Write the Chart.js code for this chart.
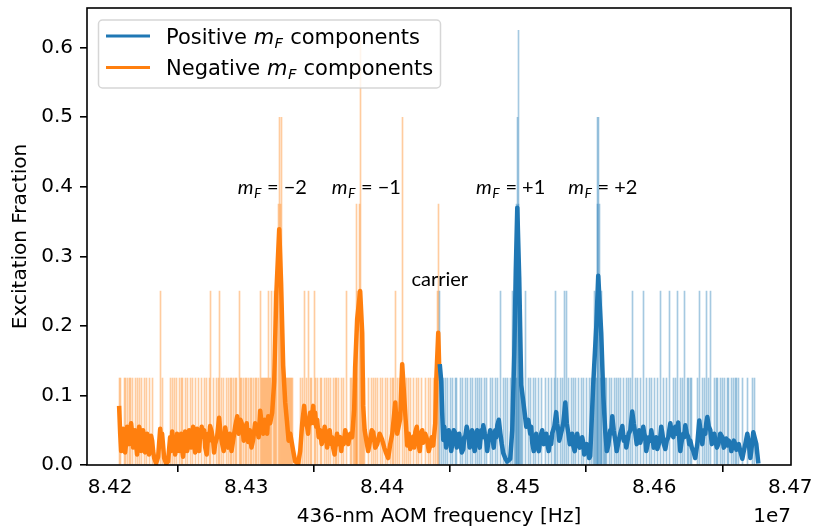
<!DOCTYPE html>
<html><head><meta charset="utf-8">
<script src="https://cdn.jsdelivr.net/npm/chart.js@4.4.0/dist/chart.umd.min.js"></script>
<style>html,body{margin:0;padding:0;background:#fff}#wrap{width:814px;height:530px}</style>
</head><body><div id="wrap"><canvas id="c" width="814" height="530"></canvas></div>
<script>
// Frequencies in kHz (436-nm AOM), values = excitation fraction
const negSmoothFreq = [84206.6,84207.4,84208.1,84208.8,84209.5,84210.3,84211.0,84211.8,84212.5,84213.2,84214.0,84214.7,84215.4,84216.2,84216.9,84217.6,84218.3,84219.1,84219.8,84220.6,84221.3,84222.1,84222.8,84223.5,84224.2,84225.0,84225.7,84226.5,84227.2,84227.9,84228.6,84229.4,84230.1,84230.9,84231.6,84232.4,
 84233.8,84235.3,84236.8,84237.5,84238.2,84239.7,84241.2,84242.6,
 84244.1,84244.8,84245.6,84246.3,84247.1,84247.8,84248.5,84249.2,84250.0,84250.7,84251.5,84252.2,84252.9,84253.6,84254.4,84255.1,84255.9,84256.6,84257.4,84258.1,84258.8,84259.5,84260.3,84261.0,84261.8,84262.5,84263.2,84263.9,84264.7,84265.4,84266.2,84267.3,84268.4,84269.1,84269.9,84271.0,84272.1,84272.8,84273.5,84274.6,84275.7,84276.4,84277.2,84278.6,84280.1,84281.2,84282.4,84283.5,84284.6,84285.7,84286.8,84288.0,84289.2,84290.4,84291.9,84293.4,84294.5,84295.8,84297.1,84298.2,84299.3,84300.4,84301.5,84302.7,84303.9,84305.1,84306.6,84308.1,84309.2,84310.3,84311.4,84312.5,84313.6,84314.7,84315.4,84316.2,84317.6,84319.1,
 84320.6,84322.1,84324.3,84325.7,84327.2,84328.7,84330.1,84331.2,84332.4,84334.6,84336.0,84338.2,84339.7,84341.2,84342.6,
 84343.7,84344.8,84345.5,84346.3,84347.0,84347.8,84348.5,84349.3,84350.0,84350.7,84351.5,84352.2,84353.3,84354.4,84355.5,84356.6,84357.7,84358.8,84359.5,84360.3,84361.4,84362.5,84363.2,84363.9,84365.0,84366.1,84366.8,84367.6,84369.1,84369.9,84370.6,84371.7,84372.8,84373.9,84375.0,84376.5,84377.9,
 84379.4,84380.1,84381.6,84383.8,84385.3,84386.0,84387.1,84388.2,84389.7,84391.2,84392.3,84393.4,84394.9,84396.3,84398.1,84400.0,84401.5,84402.9,84404.4,84405.9,84407.4,84409.6,84411.0,84413.2,84414.7,84416.9,84418.4,
 84419.5,84420.6,84421.7,84422.8,84423.5,84424.3,84425.4,84426.5,84427.6,84428.7,84429.4,84430.1,84431.6,84433.1,84434.2,84435.3,84436.4,84437.5,84439.0,84439.7,84441.2,84441.9];
const negSmoothVal = [0.085,0.045,0.020,0.030,0.052,0.040,0.018,0.032,0.055,0.048,0.030,0.050,0.060,0.046,0.025,0.040,0.050,0.030,0.015,0.042,0.055,0.048,0.020,0.032,0.050,0.040,0.018,0.028,0.045,0.038,0.015,0.030,0.042,0.035,0.020,0.010,
 0.002,0.012,0.052,0.030,0.045,0.010,0.002,0.005,
 0.040,0.020,0.048,0.030,0.035,0.015,0.025,0.045,0.040,0.020,0.035,0.045,0.022,0.012,0.030,0.048,0.038,0.020,0.028,0.050,0.040,0.025,0.045,0.055,0.030,0.018,0.040,0.052,0.032,0.020,0.042,0.055,0.040,0.050,0.025,0.015,0.045,0.035,0.056,0.048,0.035,0.018,0.030,0.040,0.068,0.045,0.030,0.020,0.054,0.040,0.025,0.045,0.020,0.035,0.055,0.070,0.045,0.065,0.058,0.035,0.040,0.060,0.033,0.050,0.025,0.036,0.060,0.050,0.040,0.078,0.060,0.045,0.065,0.055,0.045,0.070,0.060,0.075,
 0.120,0.243,0.339,0.260,0.143,0.090,0.060,0.035,0.045,0.020,0.005,0.002,0.020,0.060,0.085,
 0.060,0.055,0.045,0.065,0.075,0.060,0.070,0.085,0.060,0.075,0.055,0.065,0.040,0.050,0.030,0.037,0.055,0.045,0.025,0.040,0.050,0.030,0.040,0.025,0.015,0.035,0.045,0.030,0.040,0.020,0.036,0.030,0.050,0.040,0.030,0.045,0.040,
 0.080,0.140,0.210,0.250,0.190,0.085,0.050,0.037,0.020,0.036,0.050,0.047,0.025,0.030,0.045,0.036,0.025,0.017,0.010,0.030,0.045,0.090,0.045,0.066,0.145,0.075,0.028,
 0.045,0.023,0.035,0.041,0.025,0.047,0.055,0.033,0.020,0.046,0.050,0.032,0.045,0.036,0.020,0.028,0.040,0.028,0.060,0.120,0.190,0.140];
const posSmoothFreq = [84442.3,84443.4,84444.1,84444.9,84445.6,84446.3,84447.0,84447.8,84448.9,84450.0,84450.7,84451.5,84452.6,84453.7,84454.8,84455.9,84456.6,84457.4,84458.5,84459.6,84460.3,84461.0,84462.1,84463.2,84464.3,84465.4,84466.1,84466.9,84468.0,84469.1,84469.8,84470.6,84471.7,84472.8,84473.5,84474.3,84475.4,84476.5,84477.2,84477.9,84479.4,84480.9,84482.0,84483.1,84483.8,84484.6,84485.7,84486.8,84487.9,84489.0,
 84490.4,84491.9,84494.1,84495.6,84497.1,84498.2,84499.3,84500.7,84502.2,84504.4,84505.9,84507.4,84508.8,84509.5,84510.3,84511.4,84512.5,84513.2,84514.0,84515.1,84516.2,84516.9,84517.6,84518.8,84519.9,84520.6,84521.3,84522.4,84523.5,84524.2,84525.0,84526.5,84527.9,84528.6,84529.4,84530.1,84530.9,84532.0,84533.1,84534.6,
 84535.7,84536.8,84537.9,84539.0,84539.7,84540.4,84541.5,84542.6,84543.3,84544.1,84545.2,84546.3,84547.0,84547.8,84548.5,84549.3,84550.4,84551.5,84552.2,84552.9,84555.1,84557.4,84558.8,84561.0,84562.5,84564.0,84565.1,84566.2,84566.9,84567.6,
 84568.3,84569.1,84570.2,84571.3,84572.4,84573.5,84575.0,84576.5,84577.6,84578.7,84579.4,84580.1,84581.2,84582.4,84583.8,84584.9,84586.0,84587.1,84588.2,84588.9,84589.7,84590.8,84591.9,84592.6,84593.4,84594.1,84594.9,84596.0,84597.1,84597.8,
 84598.5,84599.6,84600.7,84601.4,84602.2,84603.3,84604.4,84605.1,84605.9,84607.0,84608.1,84609.2,84610.3,84611.0,84611.8,84612.9,84614.0,84614.7,84615.4,84616.5,84617.6,84618.3,84619.1,84620.2,84621.3,84622.0,84622.8,84623.9,84625.0,84625.7,
 84626.5,84627.6,84628.7,84630.1,84631.6,84633.1,84634.2,84635.3,84636.4,84637.5,84638.2,84639.0,84640.1,84641.2,84642.3,84643.4,84644.1,84644.9,84646.0,84647.1,84648.5,84650.0,84651.1,84652.2,84652.9,84653.7,84654.8,84655.9,84656.6,84657.4,
 84658.5,84659.6,84660.3,84661.0,84662.1,84663.2,84664.7,84665.8,84666.9,84668.4,84669.5,84670.6,84671.3,84672.1,84672.8,84675.0,84676.5];
const posSmoothVal = [0.145,0.120,0.075,0.036,0.055,0.045,0.025,0.040,0.050,0.041,0.020,0.030,0.050,0.046,0.025,0.035,0.045,0.032,0.018,0.023,0.040,0.040,0.055,0.045,0.025,0.040,0.050,0.032,0.020,0.045,0.050,0.036,0.025,0.050,0.040,0.057,0.045,0.035,0.020,0.032,0.050,0.041,0.025,0.050,0.040,0.057,0.065,0.046,0.030,0.017,
 0.010,0.005,0.009,0.050,0.160,0.280,0.370,0.270,0.115,0.080,0.055,0.065,0.045,0.055,0.032,0.020,0.035,0.045,0.028,0.020,0.036,0.045,0.050,0.030,0.035,0.045,0.032,0.020,0.040,0.030,0.046,0.055,0.076,0.060,0.050,0.035,0.041,0.050,0.060,0.090,
 0.060,0.046,0.030,0.035,0.045,0.028,0.020,0.035,0.045,0.036,0.025,0.030,0.040,0.032,0.015,0.023,0.030,0.018,0.010,0.013,0.115,0.200,0.272,0.190,0.100,0.047,0.020,0.028,0.040,0.050,
 0.045,0.070,0.050,0.036,0.020,0.032,0.045,0.056,0.035,0.040,0.025,0.032,0.045,0.050,0.077,0.060,0.046,0.030,0.040,0.050,0.032,0.040,0.055,0.045,0.040,0.020,0.028,0.040,0.035,0.050,
 0.041,0.025,0.030,0.040,0.023,0.030,0.040,0.055,0.046,0.030,0.023,0.035,0.040,0.050,0.060,0.045,0.040,0.050,0.055,0.045,0.061,0.040,0.020,0.035,0.045,0.040,0.057,0.045,0.040,0.030,
 0.035,0.025,0.020,0.010,0.030,0.064,0.045,0.030,0.050,0.045,0.060,0.069,0.055,0.050,0.030,0.040,0.045,0.035,0.025,0.030,0.045,0.040,0.025,0.032,0.038,0.028,0.035,0.030,0.020,0.026,
 0.035,0.030,0.022,0.028,0.030,0.020,0.009,0.020,0.030,0.045,0.030,0.010,0.020,0.035,0.047,0.030,0.002];
// Raw (unsmoothed) non-zero readings; all other readings are 0
const negRawFreq = [84206.6,84207.9,84210.3,84211.5,84213.0,84214.0,84215.2,84216.4,84218.4,84220.1,84221.5,84223.3,84225.2,84227.0,84228.9,84231.1,84236.8,84238.5,84244.6,84245.8,84247.1,84249.0,84250.7,84252.2,84253.5,84255.1,84257.1,84258.8,84260.5,84262.5,84264.9,84267.4,84269.3,84271.1,84273.0,84274.0,84276.0,84277.9,84279.6,84280.1,84281.6,84283.3,84285.3,84287.0,84288.2,84289.5,84290.7,84291.9,84293.2,84294.9,84295.6,84296.8,84298.0,84299.3,84300.5,84301.7,84302.9,84304.2,84305.4,84306.6,84307.9,84309.0,84310.3,84311.0,84311.8,84312.5,84313.2,84314.0,84314.7,84315.4,84316.2,84316.9,84317.6,84318.9,84319.9,84320.8,84321.3,84322.6,84323.5,84324.3,84325.0,84325.7,84326.5,84327.2,84327.9,84328.7,84329.4,84330.1,84330.9,84331.6,84332.4,84333.1,84333.8,84339.7,84341.4,84342.6,84344.6,84345.6,84347.1,84348.3,84350.0,84351.3,84352.7,84354.4,84355.7,84357.6,84359.3,84360.5,84361.8,84364.2,84365.4,84366.7,84367.9,84370.4,84371.5,84373.5,84376.5,84377.7,84378.7,84379.4,84380.1,84380.9,84381.4,84382.0,84383.1,84384.2,84384.9,84385.7,84386.4,84387.1,84389.9,84391.9,84393.6,84394.9,84396.8,84398.5,84400.2,84402.2,84404.2,84405.9,84407.6,84408.5,84409.6,84411.3,84412.7,84415.2,84416.2,84417.6,84419.3,84421.1,84423.0,84425.0,84426.7,84429.2,84431.6,84434.0,84435.8,84437.7,84439.5,84440.4,84441.2];
const negRawVal = [0.125,0.125,0.125,0.125,0.125,0.125,0.125,0.125,0.125,0.125,0.125,0.125,0.125,0.125,0.125,0.125,0.25,0.125,0.125,0.125,0.125,0.125,0.125,0.125,0.125,0.125,0.125,0.125,0.125,0.125,0.125,0.125,0.125,0.125,0.125,0.25,0.125,0.125,0.125,0.25,0.125,0.125,0.125,0.125,0.125,0.125,0.125,0.125,0.125,0.25,0.125,0.125,0.125,0.125,0.125,0.125,0.125,0.125,0.125,0.125,0.125,0.125,0.25,0.125,0.125,0.125,0.125,0.125,0.125,0.125,0.25,0.125,0.125,0.25,0.125,0.25,0.125,0.25,0.375,0.5,0.375,0.5,0.125,0.125,0.125,0.125,0.125,0.125,0.125,0.125,0.125,0.125,0.125,0.125,0.125,0.25,0.125,0.25,0.125,0.125,0.25,0.125,0.125,0.125,0.125,0.125,0.125,0.125,0.125,0.125,0.125,0.125,0.125,0.125,0.125,0.25,0.125,0.125,0.125,0.125,0.125,0.125,0.375,0.25,0.375,0.61,0.125,0.125,0.125,0.125,0.125,0.125,0.125,0.125,0.125,0.125,0.125,0.125,0.125,0.125,0.125,0.125,0.25,0.125,0.125,0.5,0.125,0.125,0.125,0.125,0.125,0.125,0.125,0.125,0.125,0.125,0.125,0.125,0.125,0.25,0.375];
const posRawFreq = [84442.1,84443.9,84445.1,84446.8,84448.0,84450.0,84451.7,84453.7,84454.9,84457.4,84459.0,84461.0,84462.7,84464.7,84466.4,84468.4,84470.1,84471.5,84473.3,84475.0,84477.0,84479.4,84481.1,84483.1,84484.8,84487.1,84489.2,84490.4,84492.4,84494.1,84495.8,84497.1,84497.8,84498.5,84498.9,84499.5,84500.0,84500.5,84501.1,84501.8,84502.6,84503.3,84505.5,84507.6,84509.3,84511.3,84512.5,84514.9,84517.4,84519.9,84522.3,84524.8,84526.5,84527.6,84529.2,84530.9,84532.6,84533.8,84535.3,84537.0,84539.0,84540.7,84542.4,84544.3,84546.3,84548.0,84550.5,84552.4,84554.2,84555.1,84555.9,84556.6,84557.4,84558.1,84558.5,84559.2,84559.6,84560.3,84561.0,84561.5,84562.5,84563.2,84564.0,84564.7,84567.1,84568.9,84570.6,84572.1,84573.8,84575.5,84577.4,84579.4,84581.1,84582.4,84583.8,84586.0,84587.7,84589.7,84591.9,84594.6,84596.5,84598.3,84600.0,84602.0,84604.9,84606.8,84608.8,84611.4,84614.2,84615.4,84616.9,84619.1,84620.4,84622.1,84624.1,84625.2,84626.5,84627.7,84632.1,84633.5,84635.1,84637.0,84638.2,84639.9,84641.5,84644.3,84645.4,84646.8,84648.5,84650.2,84651.7,84653.5,84654.6,84656.6,84658.3,84659.6,84660.8,84662.0,84664.9,84668.2,84672.3,84673.5];
const posRawVal = [0.25,0.125,0.125,0.125,0.125,0.125,0.125,0.125,0.125,0.125,0.125,0.125,0.125,0.125,0.125,0.125,0.125,0.125,0.125,0.125,0.125,0.125,0.125,0.125,0.125,0.25,0.125,0.125,0.125,0.125,0.25,0.125,0.125,0.125,0.375,0.5,0.375,0.625,0.125,0.125,0.125,0.125,0.25,0.125,0.125,0.125,0.125,0.125,0.125,0.125,0.125,0.125,0.125,0.25,0.125,0.125,0.125,0.25,0.25,0.125,0.125,0.125,0.125,0.125,0.125,0.125,0.125,0.125,0.125,0.125,0.25,0.125,0.125,0.375,0.5,0.5,0.375,0.125,0.125,0.25,0.125,0.125,0.125,0.125,0.125,0.125,0.125,0.125,0.125,0.125,0.125,0.125,0.125,0.125,0.25,0.125,0.125,0.125,0.25,0.125,0.125,0.125,0.125,0.125,0.25,0.125,0.125,0.25,0.125,0.125,0.25,0.125,0.125,0.25,0.125,0.125,0.125,0.125,0.125,0.25,0.125,0.125,0.25,0.125,0.25,0.125,0.125,0.125,0.125,0.125,0.125,0.125,0.125,0.125,0.125,0.125,0.125,0.125,0.125,0.125,0.125,0.125];
const xTicks = [84200,84300,84400,84500,84600,84700];
const yTicks = [0,0.1,0.2,0.3,0.4,0.5,0.6];
const peakLabels = ['\u22122','\u22121','+1','+2'];
const peakLabelFreq = [84318.8,84387.9,84494.1,84561.8];
const peakLabelVal = [0.39,0.39,0.39,0.39];
const carrierFreq = 84442.3, carrierVal = 0.257;

const BLUE='#1f77b4', ORANGE='#ff7f0e';
const BLUE_L='rgba(31,119,180,0.4)', ORANGE_L='rgba(255,127,14,0.4)';
const F='DejaVu Sans';
const pts=(fx,vy)=>fx.map((f,i)=>({x:f,y:vy[i]}));

function drawMF(ctx, x, y, family, size, rest, align){
  const reg = size+'px "'+family+'"', ita = 'italic '+size+'px "'+family+'"', sub='italic '+(size*0.7)+'px "'+family+'"';
  ctx.font=ita; const wm=ctx.measureText('m').width;
  ctx.font=sub; const wf=ctx.measureText('F').width;
  ctx.font=reg; const wr=ctx.measureText(rest).width;
  const tot=wm+wf+wr;
  let x0 = align==='center' ? x-tot/2 : x;
  ctx.textAlign='left';
  ctx.font=ita; ctx.fillText('m',x0,y);
  ctx.font=sub; ctx.fillText('F',x0+wm+0.5,y+size*0.2);
  ctx.font=reg; ctx.fillText(rest,x0+wm+wf+1,y);
}

// snap the 1-px raw bars onto whole device pixels so they stay crisp
const snap={id:'snap',beforeDatasetsDraw(chart){
  chart.data.datasets.forEach((ds,i)=>{
    if(ds.type!=='bar') return;
    chart.getDatasetMeta(i).data.forEach(el=>{ el.x=Math.floor(el.x)+0.5; });
  });
}};

const deco={id:'deco',afterDraw(chart){
  const {ctx,chartArea:a,scales:{x,y}}=chart;
  ctx.save();
  ctx.fillStyle='#000'; ctx.textBaseline='alphabetic';
  for(let i=0;i<peakLabels.length;i++){
    drawMF(ctx,x.getPixelForValue(peakLabelFreq[i]),y.getPixelForValue(peakLabelVal[i]),'Lato',20,' = '+peakLabels[i],'center');
  }
  ctx.font='20px Lato'; ctx.textAlign='center';
  ctx.fillText('carrier',x.getPixelForValue(carrierFreq),y.getPixelForValue(carrierVal));
  ctx.strokeStyle='#000'; ctx.lineWidth=1.6;
  ctx.strokeRect(a.left,a.top,a.right-a.left,a.bottom-a.top);
  ctx.font='20px "'+F+'"'; ctx.textBaseline='middle'; ctx.textAlign='center';
  ctx.fillText('436-nm AOM frequency [Hz]',(a.left+a.right)/2,517);
  ctx.textAlign='right'; ctx.fillText('1e7',a.right,517);
  ctx.save(); ctx.translate(21,(a.top+a.bottom)/2); ctx.rotate(-Math.PI/2);
  ctx.textAlign='center'; ctx.fillText('Excitation Fraction',0,0); ctx.restore();
  // legend
  const lx=98.5,ly=20,lw=342,lh=68,r=4;
  ctx.beginPath(); ctx.roundRect(lx,ly,lw,lh,r);
  ctx.fillStyle='rgba(255,255,255,0.8)'; ctx.fill();
  ctx.strokeStyle='rgba(204,204,204,0.8)'; ctx.lineWidth=1.5; ctx.stroke();
  const rows=[[BLUE,'Positive ',36],[ORANGE,'Negative ',67.5]];
  for(const [c,t,yy] of rows){
    ctx.strokeStyle=c; ctx.lineWidth=3; ctx.lineCap='butt';
    ctx.beginPath(); ctx.moveTo(106,yy); ctx.lineTo(150,yy); ctx.stroke();
    ctx.fillStyle='#000'; ctx.textBaseline='alphabetic'; ctx.textAlign='left';
    ctx.font='21px "'+F+'"'; ctx.fillText(t,166,yy+7.5);
    const w=ctx.measureText(t).width;
    drawMF(ctx,166+w,yy+7.5,F,21,' components','left');
  }
  ctx.restore();
}};

new Chart(document.getElementById('c'),{
  type:'line',
  data:{datasets:[
    {type:'line',label:'Positive smoothed',data:pts(posSmoothFreq,posSmoothVal),borderColor:BLUE,borderWidth:4.5,pointRadius:0,borderJoinStyle:'round',tension:0},
    {type:'line',label:'Negative smoothed',data:pts(negSmoothFreq,negSmoothVal),borderColor:ORANGE,borderWidth:4.5,pointRadius:0,borderJoinStyle:'round',tension:0},
    {type:'bar',label:'Positive raw',data:pts(posRawFreq,posRawVal),backgroundColor:BLUE_L,barThickness:1,grouped:false,borderWidth:0},
    {type:'bar',label:'Negative raw',data:pts(negRawFreq,negRawVal),backgroundColor:ORANGE_L,barThickness:1,grouped:false,borderWidth:0}
  ]},
  options:{
    responsive:false,animation:false,devicePixelRatio:1,
    layout:{padding:{top:8,right:23,left:0,bottom:0}},
    plugins:{legend:{display:false},tooltip:{enabled:false}},
    scales:{
      x:{type:'linear',offset:false,min:84183,max:84700.5,
        afterFit:s=>{s.height=65;s.paddingLeft=0;s.paddingRight=0;},
        afterBuildTicks:s=>{s.ticks=xTicks.map(v=>({value:v}));},
        ticks:{autoSkip:false,maxRotation:0,padding:4,color:'#000',font:{family:F,size:20},callback:v=>(v/10000).toFixed(2)},
        grid:{display:true,drawOnChartArea:false,drawTicks:true,tickLength:7,color:'#000',lineWidth:1.6},
        border:{display:false}},
      y:{min:0,max:0.657,
        afterFit:s=>{s.width=87;s.paddingTop=0;s.paddingBottom=0;},
        afterBuildTicks:s=>{s.ticks=yTicks.map(v=>({value:v}));},
        ticks:{autoSkip:false,padding:7,color:'#000',font:{family:F,size:20},callback:v=>v.toFixed(1)},
        grid:{display:true,drawOnChartArea:false,drawTicks:true,tickLength:7,color:'#000',lineWidth:1.6},
        border:{display:false}}
    }
  },
  plugins:[snap,deco]
});
</script></body></html>
